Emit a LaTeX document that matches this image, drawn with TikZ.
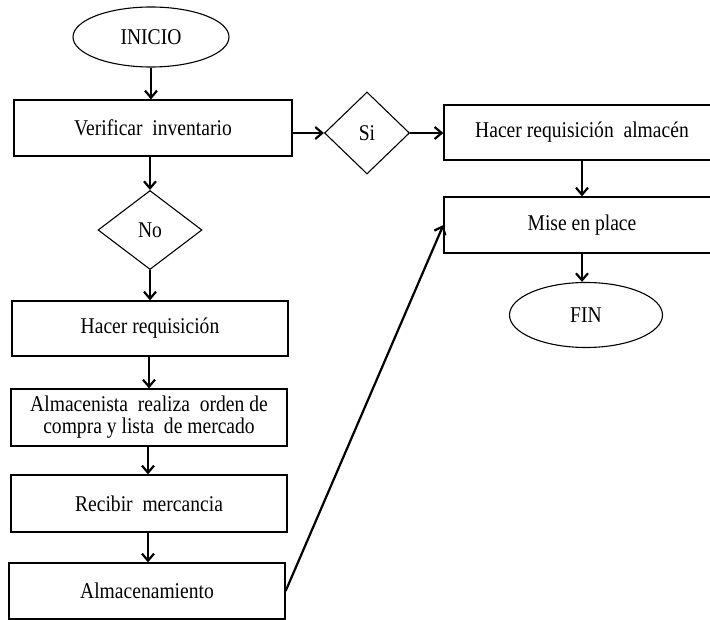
\documentclass[tikz,border=0pt]{standalone}
\usepackage{fontspec}
\setmainfont[FakeStretch=0.87]{Liberation Serif}
\usetikzlibrary{shapes.geometric, arrows.meta}

\begin{document}
\begin{tikzpicture}[x=1pt, y=-1pt,
    caja/.style={draw, line width=1.3pt, rectangle, minimum width=276pt, minimum height=56pt, inner sep=2pt, align=center, font=\fontsize{22.5}{22}\selectfont},
    rombo/.style={draw, line width=1.1pt, diamond, inner sep=0pt, font=\fontsize{22.5}{22}\selectfont},
    elipse/.style={draw, line width=1.1pt, ellipse, inner sep=0pt, font=\fontsize{22.5}{22}\selectfont},
    flecha/.style={line width=2.2pt, -{Straight Barb[length=7pt, width=12pt]}}]
    %the page
    \useasboundingbox (0, 0) rectangle (710, 620);
    %left column
    \node[elipse, minimum width=156pt, minimum height=60pt] (inicio) at (151, 37) {INICIO};
    \node[caja, minimum width=278pt] (verificar) at (153, 128) {Verificar~ inventario};
    \node[rombo, minimum width=104pt, minimum height=79pt] (no) at (150, 230) {No};
    \node[caja, minimum height=55pt] (hreq) at (150, 328.5) {Hacer requisición};
    \node[caja, minimum height=57pt] (orden) at (149, 417.5) {Almacenista~ realiza~ orden de\\compra y lista~ de mercado};
    \node[caja, minimum height=57pt] (recibir) at (149, 503.5) {Recibir~ mercancia};
    \node[caja] (almto) at (147, 591) {Almacenamiento};
    %right column
    \node[rombo, minimum width=85pt, minimum height=82pt] (si) at (367, 133) {Si};
    \node[caja, minimum height=55pt] (hreqalm) at (582, 132.5) {Hacer requisición~ almacén};
    \node[caja] (mise) at (582, 225) {Mise en place};
    \node[elipse, minimum width=153pt, minimum height=65pt] (fin) at (586, 315) {FIN};
    %the arrows
    \draw[flecha] (inicio) -- (inicio |- verificar.north);
    \draw[flecha] (verificar.south -| no) -- (no.north);
    \draw[flecha] (no.south) -- (no |- hreq.north);
    \draw[flecha] (hreq.south -| orden) -- (orden.north);
    \draw[flecha] (orden.south -| 148, 0) -- (recibir.north -| 148, 0);
    \draw[flecha] (recibir.south -| 148, 0) -- (almto.north -| 148, 0);
    \draw[flecha] (verificar.east |- si) -- (si.west);
    \draw[flecha] (si.east) -- (hreqalm.west |- si.east);
    \draw[flecha] (hreqalm) -- (mise);
    \draw[flecha] (mise) -- (mise |- fin.north);
    \draw[flecha] (almto.east) -- (mise.west);
\end{tikzpicture}
\end{document}
